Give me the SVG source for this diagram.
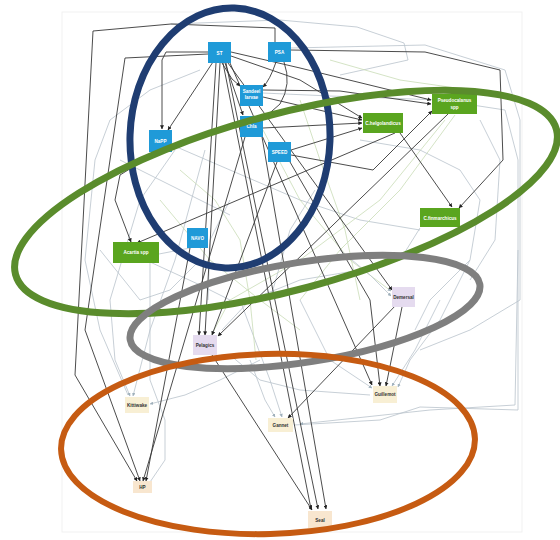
<svg xmlns="http://www.w3.org/2000/svg" width="560" height="540" viewBox="0 0 560 540">
  <style>
    .e { fill: none; stroke: #383838; stroke-width: 0.9; marker-end: url(#ah); }
    .f { fill: none; stroke: #b9c3cb; stroke-width: 0.8; }
    .fa { fill: none; stroke: #b9c3cb; stroke-width: 0.8; marker-end: url(#al); }
    .g { fill: none; stroke: #c9dcb6; stroke-width: 0.8; }
    .ga { fill: none; stroke: #c9dcb6; stroke-width: 0.8; marker-end: url(#al); }
    .blue rect { fill: #1f9ad8; }
    .green rect { fill: #5aa51f; }
    .fish rect { fill: #e5dbef; }
    .bird rect { fill: #f8efd4; }
    .mam rect { fill: #f8e6cf; }
    text { font-family: "Liberation Sans", Arial, sans-serif; font-size: 4.6px; font-weight: bold; text-anchor: middle; }
    .blue text, .green text { fill: #ffffff; }
    .fish text, .bird text, .mam text { fill: #333333; }
    .ring { fill: none; }
  </style>
  <defs>
    <marker id="ah" viewBox="0 0 6 6" refX="5.5" refY="3" markerWidth="4" markerHeight="4" markerUnits="userSpaceOnUse" orient="auto">
      <path d="M0,0 L6,3 L0,6 z" fill="#222"/>
    </marker>
    <marker id="al" viewBox="0 0 6 6" refX="5.5" refY="3" markerWidth="3.5" markerHeight="3.5" markerUnits="userSpaceOnUse" orient="auto">
      <path d="M0,0 L6,3 L0,6 z" fill="#9fb0bb"/>
    </marker>
  </defs>

  <rect width="560" height="540" fill="#ffffff"/>
  <rect x="62" y="12" width="460" height="520" fill="none" stroke="#f1f1f1" stroke-width="1"/>

  <!-- connectors -->
  <g id="connectors">
    <!-- faint background links -->
    <path class="f" d="M171,24 L280,20 L357,27 L404,43 L408,60 L340,75"/>
    <path class="f" d="M291,48 L425,45 L505,70 L520,120 L520,300 L470,330 L420,350"/>
    <path class="f" d="M240,92 L330,96 L440,100 L505,110 L518,160 L518,410 L420,407 L380,420 L294,425"/>
    <path class="fa" d="M518,250 L515,405 L430,410 L300,424"/>
    <path class="f" d="M200,70 L150,90 L110,120 L95,160 L85,260 L100,330 L128,395"/>
    <path class="fa" d="M175,150 L140,200 L110,300 L115,360 L130,396"/>
    <path class="fa" d="M205,150 L175,260 L150,330 L133,396"/>
    <path class="f" d="M150,262 L150,380 L165,420 L165,460 L148,485"/>
    <path class="fa" d="M260,360 L220,380 L185,395 L150,404"/>
    <path class="f" d="M172,145 L230,170 L300,200 L360,220 L420,230"/>
    <path class="g" d="M160,200 L210,260 L260,300 L300,330"/>
    <path class="g" d="M300,100 L320,160 L345,230 L360,300"/>
    <path class="ga" d="M263,130 L300,200 L350,260 L391,291"/>
    <path class="fa" d="M340,250 L370,275 L391,296"/>
    <path class="f" d="M420,228 L400,260 L360,270 L300,280 L250,300 L222,330"/>
    <path class="ga" d="M445,120 L380,200 L300,260 L230,300 L212,334"/>
    <path class="g" d="M455,115 L400,190 L340,250 L300,300"/>
    <path class="f" d="M100,250 L140,300 L170,290 L200,260"/>
    <path class="f" d="M159,254 L190,248"/>
    <path class="f" d="M230,355 L260,380 L300,390 L370,395"/>
    <path class="fa" d="M250,360 L265,400 L275,417"/>
    <path class="fa" d="M240,300 L270,380 L282,417"/>
    <path class="f" d="M360,140 L420,150 L460,170 L480,200 L470,260 L430,300 L415,330"/>
    <path class="fa" d="M470,260 L440,320 L410,360 L398,387"/>
    <path class="fa" d="M440,300 L415,350 L392,386"/>
    <path class="f" d="M230,200 L210,240 L208,300"/>
    <path class="g" d="M180,170 L215,200 L240,240 L250,300 L256,360"/>
    <path class="f" d="M315,190 L290,230 L270,300"/>
    <path class="f" d="M120,160 L160,180 L200,200 L230,215"/>
    <path class="fa" d="M300,300 L330,360 L360,380 L372,388"/>
    <path class="f" d="M150,262 L200,285 L230,300"/>
    <path class="f" d="M480,120 L500,160 L495,240 L470,280"/>
    <path class="g" d="M330,60 L400,80 L470,90"/>

    <!-- main links -->
    <path class="e" d="M213,62 L168,130"/>
    <path class="e" d="M208,52 L166,52 L162,60 L162,129"/>
    <path class="e" d="M222,63 L232,79 L240,86"/>
    <path class="e" d="M225,63 L243,115"/>
    <path class="e" d="M231,56 L300,80 L362,118"/>
    <path class="e" d="M231,52 L300,68 L431,100"/>
    <path class="e" d="M276,62 Q270,80 263,87"/>
    <path class="e" d="M284,62 Q292,84 280,104 L264,118"/>
    <path class="e" d="M263,97 L362,120"/>
    <path class="e" d="M263,90 L340,91 L431,104"/>
    <path class="e" d="M263,128 L362,123"/>
    <path class="e" d="M291,150 L362,128"/>
    <path class="e" d="M291,155 L373,170 L432,111"/>
    <path class="e" d="M448,114 L218,336"/>
    <path class="e" d="M395,133 L137,243"/>
    <path class="e" d="M400,133 L452,207"/>
    <path class="e" d="M291,50 L425,52 L500,70 L503,160 L459,208"/>
    <path class="e" d="M157,152 L120,175 L115,200 L131,242"/>
    <path class="e" d="M216,63 L199,335"/>
    <path class="e" d="M220,63 L205,335"/>
    <path class="e" d="M277,162 L212,335"/>
    <path class="e" d="M228,63 L392,290"/>
    <path class="e" d="M226,63 L318,509"/>
    <path class="e" d="M223,63 L311,509"/>
    <path class="e" d="M212,355 L312,510"/>
    <path class="e" d="M290,162 L370,300 L380,386"/>
    <path class="e" d="M230,63 L372,385"/>
    <path class="e" d="M262,137 L326,509"/>
    <path class="e" d="M402,307 L386,386"/>
    <path class="e" d="M396,305 L288,418"/>
    <path class="e" d="M275,42 L275,28 L171,24 L93,31 L75,375 L137,481"/>
    <path class="e" d="M208,54 L125,58 L85,330 L140,481"/>
    <path class="e" d="M245,137 L143,481"/>
    <path class="e" d="M190,248 L146,481"/>
  </g>

  <!-- nodes -->
  <g class="blue">
    <g id="st"><rect x="208" y="42" width="23" height="21"/><text x="219.5" y="54.5">ST</text></g>
    <g id="psa"><rect x="268" y="42" width="23" height="20"/><text x="279.5" y="54">PSA</text></g>
    <g id="sandeel"><rect x="240" y="85" width="23" height="21"/><text x="251.5" y="93">Sandeel</text><text x="251.5" y="99">larvae</text></g>
    <g id="chla"><rect x="240" y="116" width="23" height="21"/><text x="251.5" y="128">Chla</text></g>
    <g id="napp"><rect x="149" y="130" width="23" height="22"/><text x="160.5" y="142.5">NaPP</text></g>
    <g id="speed"><rect x="268" y="142" width="23" height="20"/><text x="279.5" y="154">SPEED</text></g>
    <g id="navo"><rect x="187" y="228" width="21" height="20"/><text x="197.5" y="240">NAVO</text></g>
  </g>
  <g class="green">
    <g id="acartia"><rect x="113" y="242" width="46" height="21"/><text x="136" y="254">Acartia spp</text></g>
    <g id="chelgolandicus"><rect x="363" y="113" width="40" height="20"/><text x="383" y="125">C.helgolandicus</text></g>
    <g id="pseudocalanus"><rect x="432" y="94" width="45" height="20"/><text x="454.5" y="102">Pseudocalanus</text><text x="454.5" y="109">spp</text></g>
    <g id="cfinmarchicus"><rect x="420" y="208" width="40" height="19"/><text x="440" y="219.5">C.finmarchicus</text></g>
  </g>
  <g class="fish">
    <g id="demersal"><rect x="392" y="287" width="23" height="20"/><text x="403.5" y="299">Demersal</text></g>
    <g id="pelagics"><rect x="193" y="335" width="24" height="20"/><text x="205" y="347">Pelagics</text></g>
  </g>
  <g class="bird">
    <g id="guillemot"><rect x="373" y="386" width="24" height="17"/><text x="385" y="396">Guillemot</text></g>
    <g id="kittiwake"><rect x="125" y="397" width="24" height="16"/><text x="137" y="407">Kittiwake</text></g>
    <g id="gannet"><rect x="268" y="418" width="25" height="14"/><text x="280.5" y="426.5">Gannet</text></g>
  </g>
  <g class="mam">
    <g id="hp"><rect x="133" y="481" width="19" height="12"/><text x="142.5" y="488.5">HP</text></g>
    <g id="seal"><rect x="308" y="511" width="24" height="17"/><text x="320" y="521.5">Seal</text></g>
  </g>

  <!-- grouping rings -->
  <g id="groups">
    <ellipse class="ring" cx="230" cy="138" rx="100" ry="130" stroke="#1f3d72" stroke-width="7" transform="rotate(2 230 138)"/>
    <ellipse class="ring" cx="286" cy="202" rx="280" ry="88" stroke="#5a8c2c" stroke-width="7" transform="rotate(-15 286 202)"/>
    <ellipse class="ring" cx="305" cy="312" rx="177" ry="50" stroke="#7f7f7f" stroke-width="7" transform="rotate(-9 305 312)"/>
    <ellipse class="ring" cx="268" cy="444" rx="207" ry="90" stroke="#c65b12" stroke-width="6" transform="rotate(-1.5 268 444)"/>
  </g>
</svg>
